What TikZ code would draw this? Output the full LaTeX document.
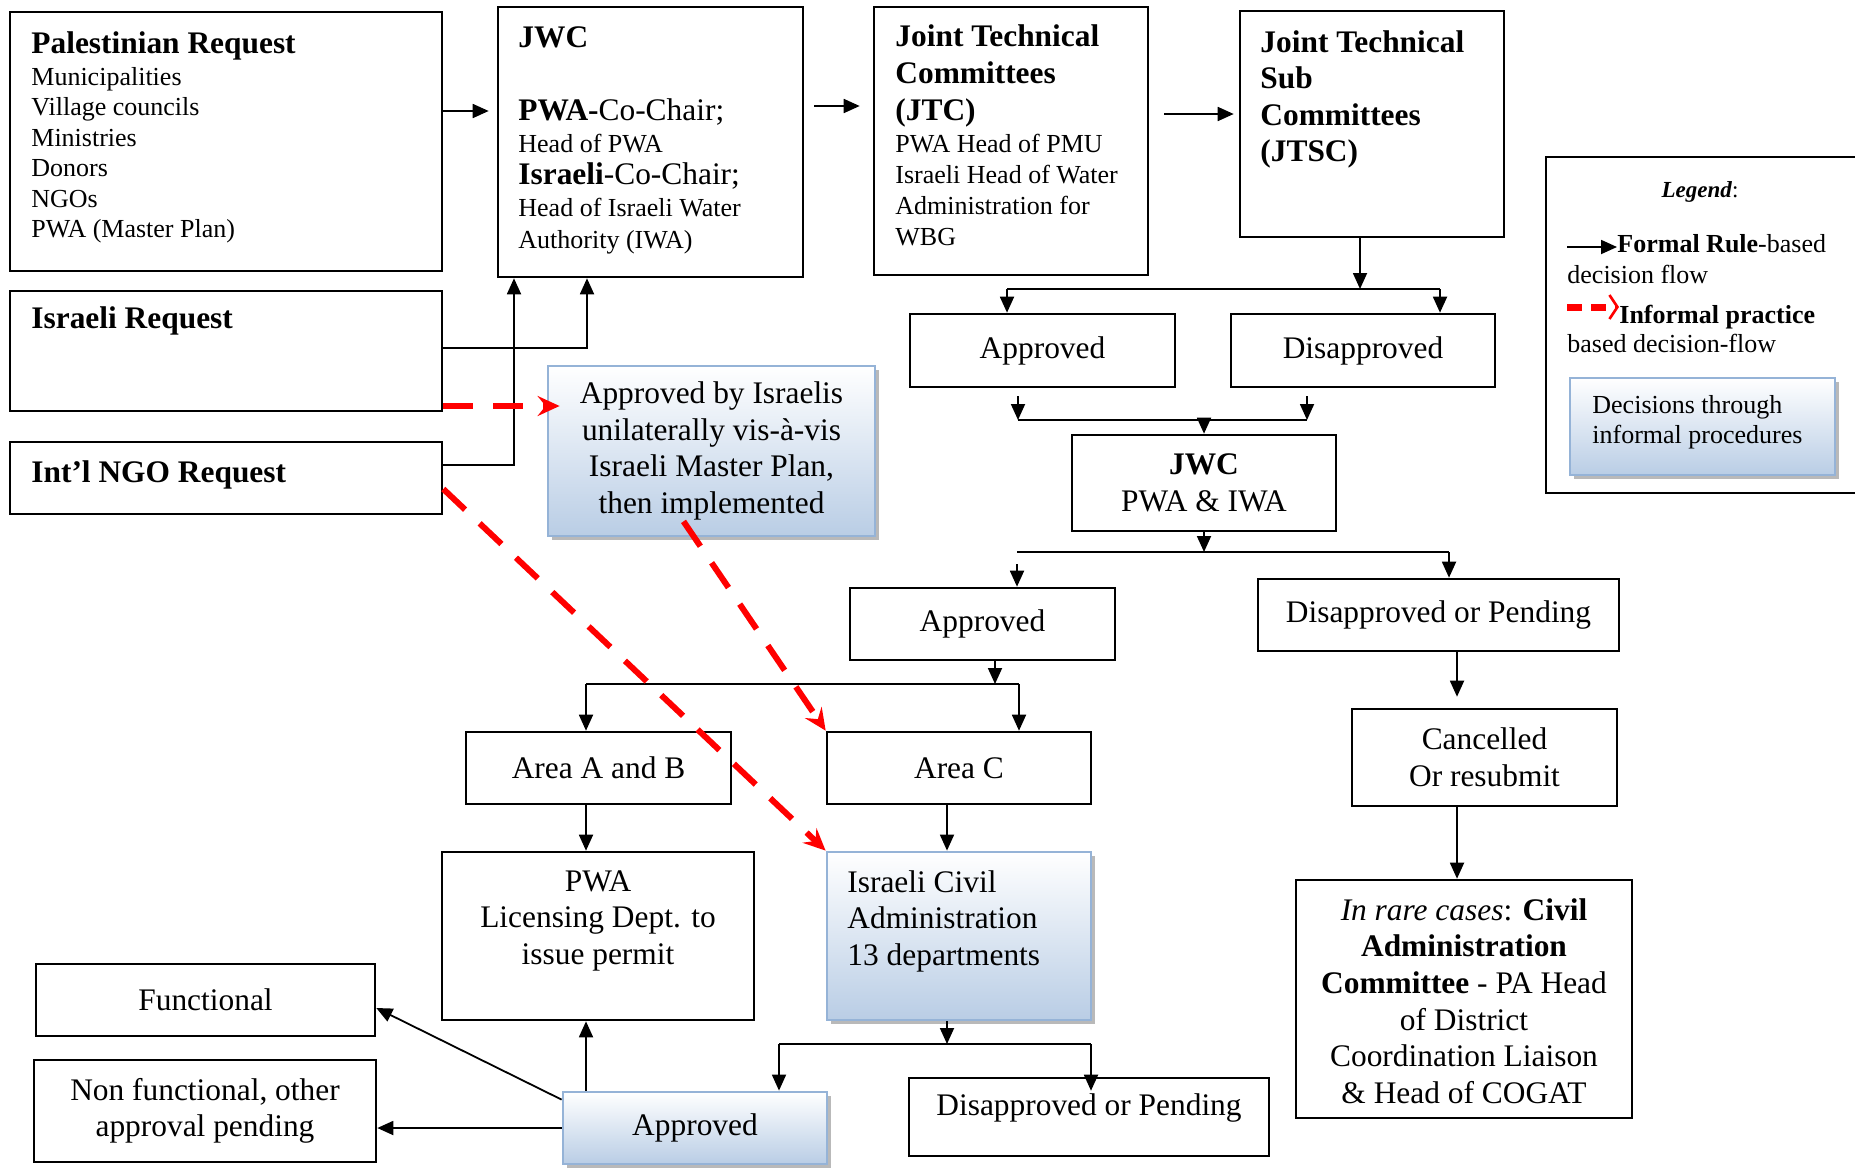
\documentclass[tikz,border=0pt]{standalone}
\usepackage{fontspec}
\setmainfont{Liberation Serif}
\usetikzlibrary{arrows.meta, shadows, calc}
\definecolor{bluebd}{HTML}{95B3D7}
\definecolor{bluebot}{HTML}{B9CDE5}
\newcommand\mainsz{\fontsize{15.7}{18.3}\selectfont}
\newcommand\smallsz{\fontsize{13}{15.3}\selectfont}

\begin{document}
\begin{tikzpicture}[x=0.5pt, y=-0.5pt,
    box/.style={draw, line width=1.3pt, inner sep=0pt},
    bluebox/.style={draw=bluebd, line width=1.4pt, inner sep=0pt, top color=white, bottom color=bluebot,
        general shadow={fill=gray!55, shadow xshift=2pt, shadow yshift=-2pt}},
    txt/.style={font=\mainsz},
    small/.style={font=\smallsz},
    lbl/.style={inner sep=0pt},
    ln/.style={line width=0.9pt},
    arr/.style={line width=0.9pt, -{Triangle[length=8pt,width=7pt]}},
    redarr/.style={red, line width=3pt, dash pattern=on 15pt off 10pt, -{Stealth[length=11pt,width=10pt,inset=4pt]}}]
    \useasboundingbox (0,0) rectangle (1855,1167);

    \node[box, minimum width=216pt, minimum height=129.5pt] (pal) at (226,141.5) {};
    \node[lbl, txt, anchor=north west] (palT) at (31,31) {\textbf{Palestinian Request}};
    \node[lbl, anchor=north west, align=left, font=\fontsize{13}{15.25}\selectfont] (palL) at (31,67)
        {Municipalities\\Village councils\\Ministries\\Donors\\NGOs\\PWA (Master Plan)};

    \node[box, minimum width=152.5pt, minimum height=135pt] (jwc) at (650.5,142) {};
    \node[lbl, txt, anchor=north west] (jwcT) at (518,26) {\textbf{JWC}};
    \node[lbl, anchor=north west, align=left, font=\fontsize{13}{16}\selectfont] (jwcL) at (518,98)
        {{\mainsz\textbf{PWA-}Co-Chair;}\\Head of PWA\\{\mainsz\textbf{Israeli}-Co-Chair;}\\Head of Israeli Water\\Authority (IWA)};

    \node[box, minimum width=137pt, minimum height=134pt] (jtc) at (1011,141) {};
    \node[lbl, anchor=north west, align=left, font=\fontsize{15.7}{18.5}\selectfont\bfseries] (jtcT) at (895,24)
        {Joint Technical\\Committees\\(JTC)};
    \node[lbl, anchor=north west, align=left, font=\fontsize{13}{15.5}\selectfont] (jtcL) at (895,134)
        {PWA Head of PMU\\Israeli Head of Water\\Administration for\\WBG};

    \node[box, minimum width=132pt, minimum height=113pt] (jtsc) at (1372,124) {};
    \node[lbl, anchor=north west, align=left, font=\mainsz\bfseries] (jtscT) at (1260,30)
        {Joint Technical\\Sub\\Committees\\(JTSC)};

    \node[box, minimum width=164.5pt, minimum height=168pt] (leg) at (1710.5,325) {};
    \node[lbl, anchor=base, font=\fontsize{11.5}{13}\selectfont] (legT) at (1700,197) {\textbf{\textit{Legend}}:};
    \node[lbl, small, anchor=base west] (lgF) at (1617,252) {\textbf{Formal Rule}-based};
    \node[lbl, small, anchor=base west] (lgF2) at (1567,283) {decision flow};
    \node[lbl, small, anchor=base west] (lgI) at (1619,323) {\textbf{Informal practice}};
    \node[lbl, small, anchor=base west] (lgI2) at (1567,352) {based decision-flow};
    \node[bluebox, minimum width=132.5pt, minimum height=48.5pt] (lgB) at (1702.5,426.5) {};
    \node[lbl, anchor=north west, align=left, font=\fontsize{13}{15}\selectfont] (lgBT) at (1592,395)
        {Decisions through\\informal procedures};
    \draw[arr] ([xshift=-25pt, yshift=2.5pt]lgF.base west) -- ([yshift=2.5pt]lgF.base west);
    \draw[red, line width=3.5pt, dash pattern=on 7.5pt off 4.5pt, -{Straight Barb[length=4pt,width=12pt,line width=1.3pt]}]
        ([xshift=-26pt, yshift=8pt]lgI.base west) -- ([yshift=8pt]lgI.base west);

    \node[box, minimum width=216pt, minimum height=60pt] (isr) at (226,351) {};
    \node[lbl, txt, anchor=base west] (isrT) at (31,328) {\textbf{Israeli Request}};
    \node[box, minimum width=216pt, minimum height=36pt] (ngo) at (226,478) {};
    \node[lbl, txt, anchor=base west] (ngoT) at (31,482) {\textbf{Int’l NGO Request}};

    \node[bluebox, txt, align=center, minimum width=163.5pt, minimum height=85pt] (apvIsr) at (711.5,451)
        {Approved by Israelis\\unilaterally vis-à-vis\\Israeli Master Plan,\\then implemented};

    \node[box, txt, minimum width=132.5pt, minimum height=36.5pt] (appr1) at (1042.5,350.5) {Approved};
    \node[box, txt, minimum width=132pt, minimum height=36.5pt] (disappr1) at (1363,350.5) {Disapproved};
    \node[box, txt, align=center, minimum width=132pt, minimum height=48pt] (jwc2) at (1204,483) {\textbf{JWC}\\PWA \& IWA};
    \node[box, txt, minimum width=132.5pt, minimum height=36pt] (appr2) at (982.5,624) {Approved};
    \node[box, txt, minimum width=180.5pt, minimum height=36pt] (disp2) at (1438.5,615) {Disapproved or Pending};
    \node[box, txt, minimum width=132.5pt, minimum height=36pt] (areaAB) at (598.5,768) {Area A and B};
    \node[box, txt, minimum width=132pt, minimum height=36pt] (areaC) at (959,768) {Area C};
    \node[box, txt, align=center, minimum width=132.5pt, minimum height=48.5pt] (cancel) at (1484.5,757.5) {Cancelled\\Or resubmit};

    \node[box, minimum width=156pt, minimum height=84pt] (pwa) at (598,936) {};
    \node[lbl, txt, align=center, anchor=north] (pwaT) at (598,870) {PWA\\Licensing Dept. to\\issue permit};
    \node[bluebox, minimum width=132pt, minimum height=84pt] (civil) at (959,936) {};
    \node[lbl, txt, align=left, anchor=north west] (civT) at (847,870) {Israeli Civil\\Administration\\13 departments};
    \node[box, minimum width=168pt, minimum height=119pt] (rare) at (1464,999) {};
    \node[lbl, txt, align=center, anchor=north] (rareT) at (1464,898)
        {\textit{In rare cases}: \textbf{Civil}\\\textbf{Administration}\\\textbf{Committee} - PA Head\\of District\\Coordination Liaison\\\& Head of COGAT};

    \node[box, txt, minimum width=169.5pt, minimum height=36pt] (funct) at (205.5,1000) {Functional};
    \node[box, txt, align=center, minimum width=171pt, minimum height=51pt] (nonfunct) at (205,1111) {Non functional, other\\approval pending};
    \node[bluebox, txt, minimum width=132pt, minimum height=36pt] (appr3) at (695,1128) {Approved};
    \node[box, txt, minimum width=180pt, minimum height=39pt, text depth=12pt] (disp3) at (1089,1117) {Disapproved or Pending};

    \draw[arr, shorten >=4pt] (pal.east |- 0,111) -- (jwc.west |- 0,111);
    \draw[arr, shorten <=5pt, shorten >=6.5pt] (jwc.east |- 0,106) -- (jtc.west |- 0,106);
    \draw[arr, shorten <=7.5pt, shorten >=2.5pt] (jtc.east |- 0,114) -- (jtsc.west |- 0,114);
    \draw[arr] (isr.east |- 0,348) -| (jwc.south -| 587,0);
    \draw[arr] (ngo.east |- 0,465) -| (jwc.south -| 514,0);

    \coordinate (j1) at (1360,289);
    \coordinate (j1L) at (1007,289);
    \coordinate (j1R) at (1440,289);
    \draw[arr] (jtsc.south -| j1) -- (j1);
    \draw[ln] (j1L) -- (j1R);
    \draw[arr] (j1L) -- (j1L |- appr1.north);
    \draw[arr] (j1R) -- (j1R |- disappr1.north);

    \coordinate (j2) at (1204,420);
    \coordinate (j2L) at (1018,420);
    \coordinate (j2R) at (1307,420);
    \draw[arr, shorten <=4pt] (appr1.south -| j2L) -- (j2L);
    \draw[arr, shorten <=4pt] (disappr1.south -| j2R) -- (j2R);
    \draw[ln] (j2L) -- (j2R);
    \draw[arr, shorten <=-4.5pt] (j2) -- (jwc2.north);

    \coordinate (j3L) at (1017,552);
    \coordinate (j3R) at (1449,552);
    \draw[arr] (jwc2.south) -- (jwc2.south |- j3L);
    \draw[ln] (j3L) -- (j3R);
    \draw[arr, shorten <=6pt] (j3L) -- (j3L |- appr2.north);
    \draw[arr] (j3R) -- (j3R |- disp2.north);

    \coordinate (j4) at (995,684);
    \coordinate (j4L) at (586,684);
    \coordinate (j4R) at (1019,684);
    \draw[arr] (appr2.south -| j4) -- (j4);
    \draw[ln] (j4L) -- (j4R);
    \draw[arr] (j4L) -- (j4L |- areaAB.north);
    \draw[arr] (j4R) -- (j4R |- areaC.north);
    \draw[arr] (areaAB.south -| j4L) -- (pwa.north -| j4L);
    \draw[arr] (areaC.south -| 947,0) -- (civil.north -| 947,0);

    \coordinate (j5) at (947,1044);
    \coordinate (j5L) at (779,1044);
    \coordinate (j5R) at (1091,1044);
    \draw[arr] (civil.south -| j5) -- (j5);
    \draw[ln] (j5L) -- (j5R);
    \draw[arr] (j5L) -- (j5L |- appr3.north);
    \draw[arr, shorten >=-7pt] (j5R) -- (j5R |- disp3.north);

    \draw[arr, shorten >=5.5pt] (disp2.south -| 1457,0) -- (cancel.north -| 1457,0);
    \draw[arr] (cancel.south -| 1457,0) -- (rare.north -| 1457,0);

    \draw[arr] (appr3.north -| j4L) -- (pwa.south -| j4L);
    \draw[arr] ([yshift=-4.5pt]appr3.north west) -- ([yshift=-4pt]funct.east);
    \draw[arr] (appr3.west) -- (nonfunct.east |- appr3.west);

    \draw[redarr, shorten >=-6.5pt] (isr.east |- 0,406) -- (apvIsr.west |- 0,406);
    \draw[redarr] ([yshift=-5.5pt]ngo.east) -- (civil.north west);
    \draw[redarr] ($(apvIsr.south)+(-28,-16)$) -- (areaC.north west);
\end{tikzpicture}
\end{document}
